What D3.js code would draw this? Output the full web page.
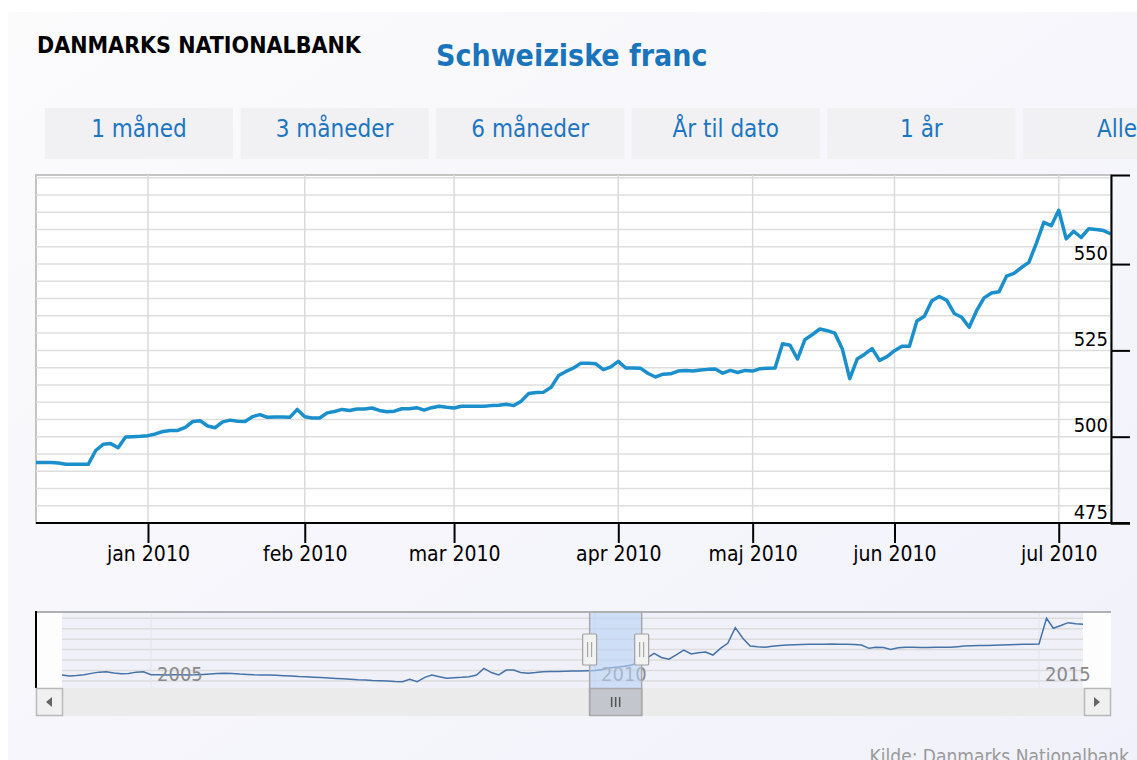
<!DOCTYPE html>
<html>
<head>
<meta charset="utf-8">
<script src="https://cdn.jsdelivr.net/npm/d3@7"></script>
<style>
body { margin: 0; background: #fff; }
text { font-family: "DejaVu Sans Condensed", "DejaVu Sans", sans-serif; font-stretch: condensed; }
</style>
</head>
<body>
<div id="chart"></div>
<script>
// daily values, dkk per 100 chf, one array per month
var dec2009 = [492.5, 492.5, 492.5, 492.4, 492.0, 492.0, 492.0, 492.0, 496.0, 497.8, 498.0, 496.8, 499.9, 500.0, 500.1];
var jan2010 = [500.3, 500.8, 501.5, 501.8, 501.8, 502.7, 504.4, 504.6, 503.1, 502.6, 504.3, 504.8, 504.5, 504.4, 505.8, 506.4, 505.6, 505.7, 505.7, 505.6, 507.9];
var feb2010 = [505.8, 505.4, 505.4, 506.9, 507.3, 507.9, 507.6, 508.0, 508.0, 508.3, 507.6, 507.2, 507.4, 508.1, 508.1, 508.4, 507.7, 508.4, 508.8, 508.5];
var mar2010 = [508.3, 508.8, 508.8, 508.8, 508.8, 509.0, 509.1, 509.4, 509.0, 510.3, 512.5, 512.8, 512.9, 514.3, 517.7, 518.9, 519.9, 521.3, 521.3, 521.1, 519.4, 520.2];
var apr2010 = [521.8, 519.9, 519.9, 519.8, 518.3, 517.3, 518.1, 518.2, 519.0, 519.2, 519.0, 519.3, 519.5, 519.6, 518.4, 519.2, 518.6, 519.2];
var maj2010 = [519.0, 519.7, 519.8, 519.9, 526.9, 526.5, 522.5, 528.1, 529.6, 531.2, 530.7, 530.0, 525.5, 516.8, 522.5, 523.9, 525.5, 522.1, 523.2];
var jun2010 = [524.9, 526.2, 526.2, 533.5, 534.9, 539.4, 540.6, 539.5, 535.7, 534.6, 531.7, 536.5, 540.2, 541.6, 542.0, 546.5, 547.3, 549.0, 550.5, 556.0, 562.1, 561.1];
var jul2010 = [565.6, 557.3, 559.5, 557.7, 560.2, 560.0, 559.7, 558.7];

var monthLabels = ["jan 2010", "feb 2010", "mar 2010", "apr 2010", "maj 2010", "jun 2010", "jul 2010"];
var yTicks = [475, 500, 525, 550];
var buttonLabels = ["1 måned", "3 måneder", "6 måneder", "År til dato", "1 år", "Alle"];

// navigator series, monthly values from 2004
var nav2004 = [478, 474, 476, 480, 486, 492, 494, 488, 484, 486, 492, 494];
var nav2005 = [480, 479, 478, 479, 479, 478, 479, 481, 483, 485, 487, 486];
var nav2006 = [483, 481, 479, 478, 478, 477, 475, 473, 471, 470, 468, 466];
var nav2007 = [464, 462, 460, 458, 455, 454, 452, 451, 449, 447, 446, 458];
var nav2008 = [446, 467, 478, 470, 463, 465, 467, 470, 478, 510, 490, 479];
var nav2009 = [502, 502, 490, 487, 490, 494, 495, 495, 496, 497, 498, 499];
var nav2010 = [500, 505, 512, 516, 520, 526, 540, 558, 582, 562, 554, 575];
var nav2011 = [598, 579, 585, 588, 574, 606, 630, 705, 654, 617, 613, 611];
var nav2012 = [616, 620, 622, 623, 624, 625, 626, 626, 627, 626, 625, 624];
var nav2013 = [622, 606, 611, 610, 601, 609, 611, 611, 610, 610, 611, 611];
var nav2014 = [611, 614, 617, 618, 619, 620, 621, 622, 623, 624, 625, 626];
var nav2015 = [627, 750, 702, 715, 729, 724, 721];
var navYears = [2005, 2010, 2015];
var navGrid = [450, 500, 550, 600, 650, 700, 750];

const width = 1137;
const height = 760;
const plot = {left: 36, right: 1111, top: 175, bottom: 523};
const nav = {left: 62, right: 1083, top: 612, bottom: 688};
const font = "'DejaVu Sans Condensed', 'DejaVu Sans', sans-serif";

var months = [dec2009, jan2010, feb2010, mar2010, apr2010, maj2010, jun2010, jul2010];
var values = [];
var monthStarts = [];
months.forEach(function(m, i) {
    if (i > 0) monthStarts.push(values.length);
    values = values.concat(m);
});

var navSeries = [nav2004, nav2005, nav2006, nav2007, nav2008, nav2009, nav2010, nav2011, nav2012, nav2013, nav2014, nav2015];
var navPoints = [];
navSeries.forEach(function(arr, yi) {
    arr.forEach(function(v, m) {
        navPoints.push({date: new Date(2004 + yi, m, 1), value: v});
    });
});

var svg = d3.select("#chart").append("svg")
    .attr("width", width)
    .attr("height", height);

// page background
var defs = svg.append("defs");
var grad = defs.append("linearGradient").attr("id", "bg")
    .attr("x1", 0).attr("y1", 0).attr("x2", 1).attr("y2", 1);
grad.append("stop").attr("offset", 0).attr("stop-color", "#fbfbfc");
grad.append("stop").attr("offset", 1).attr("stop-color", "#f1f1fb");

svg.append("rect").attr("width", width).attr("height", height).attr("fill", "#fff");
svg.append("rect").attr("x", 8).attr("y", 12)
    .attr("width", width - 8).attr("height", height - 12)
    .attr("fill", "url(#bg)");

// header
svg.append("text")
    .attr("x", 37).attr("y", 53)
    .style("font-size", "23px").style("font-weight", "bold")
    .attr("fill", "#000")
    .text("DANMARKS NATIONALBANK");

svg.append("text")
    .attr("x", 436).attr("y", 66)
    .style("font-size", "30px").style("font-weight", "bold")
    .attr("fill", "#1a74bb")
    .text("Schweiziske franc");

// range buttons
var btn = svg.selectAll(".btn")
    .data(buttonLabels)
    .enter()
    .append("g")
    .attr("class", "btn")
    .attr("transform", function(d, i) { return "translate(" + (45 + i * 195.6) + ",108)"; });

btn.append("rect")
    .attr("width", 188).attr("height", 51)
    .attr("fill", "#f1f1f4");

btn.append("text")
    .attr("x", 94).attr("y", 29)
    .attr("text-anchor", "middle")
    .style("font-size", "24px")
    .attr("fill", "#1c75c0")
    .text(function(d) { return d; });

// main chart scales
var x = d3.scaleLinear().domain([0, values.length - 1]).range([plot.left, plot.right]);
var y = d3.scaleLinear().domain([475, 575.8]).range([plot.bottom, plot.top]);

svg.append("rect")
    .attr("x", plot.left).attr("y", plot.top)
    .attr("width", plot.right - plot.left).attr("height", plot.bottom - plot.top)
    .attr("fill", "#fff")
    .attr("stroke", "#c4c4c4")
    .attr("stroke-width", 2);

// grid
svg.append("g").selectAll("line")
    .data(d3.range(475, 576, 5))
    .enter()
    .append("line")
    .attr("x1", plot.left).attr("x2", plot.right)
    .attr("y1", function(d) { return y(d); })
    .attr("y2", function(d) { return y(d); })
    .attr("stroke", "#dedede")
    .attr("stroke-width", 1.5);

svg.append("g").selectAll("line")
    .data(monthStarts)
    .enter()
    .append("line")
    .attr("x1", function(d) { return x(d); })
    .attr("x2", function(d) { return x(d); })
    .attr("y1", plot.top).attr("y2", plot.bottom)
    .attr("stroke", "#dadada")
    .attr("stroke-width", 1.5);

// the series
var line = d3.line()
    .x(function(d, i) { return x(i); })
    .y(function(d) { return y(d); });

svg.append("path")
    .datum(values)
    .attr("d", line)
    .attr("fill", "none")
    .attr("stroke", "#1a8fcb")
    .attr("stroke-width", 3.5)
    .attr("stroke-linejoin", "round");

// x axis
var xAxis = d3.axisBottom(x)
    .tickValues(monthStarts)
    .tickFormat(function(d, i) { return monthLabels[i]; })
    .tickSize(20)
    .tickSizeOuter(0);

var gx = svg.append("g")
    .attr("transform", "translate(0," + plot.bottom + ")")
    .call(xAxis);
gx.select(".domain").remove();
gx.selectAll(".tick line").attr("stroke", "#000").attr("stroke-width", 2);
gx.selectAll(".tick text").style("font-size", "21px").attr("fill", "#000");

svg.append("line")
    .attr("x1", plot.left).attr("x2", plot.right + 19)
    .attr("y1", plot.bottom).attr("y2", plot.bottom)
    .attr("stroke", "#000").attr("stroke-width", 2);

// y axis on the right, labels sit inside the plot
var yAxis = d3.axisRight(y)
    .tickValues(yTicks)
    .tickSize(19)
    .tickSizeOuter(19);

var gy = svg.append("g")
    .attr("transform", "translate(" + plot.right + ",0)")
    .call(yAxis);
gy.select(".domain").attr("stroke", "#000").attr("stroke-width", 2);
gy.selectAll(".tick line").attr("stroke", "#000").attr("stroke-width", 2);
gy.selectAll(".tick text")
    .attr("x", -3).attr("dy", -5)
    .attr("text-anchor", "end")
    .style("font-size", "20px")
    .attr("fill", "#000");

// navigator
var nx = d3.scaleTime()
    .domain([new Date(2004, 0, 1), new Date(2015, 6, 1)])
    .range([nav.left, nav.right]);
var ny = d3.scaleLinear().domain([416, 780]).range([nav.bottom, nav.top]);

svg.append("rect")
    .attr("x", plot.left).attr("y", nav.top)
    .attr("width", plot.right - plot.left).attr("height", nav.bottom - nav.top)
    .attr("fill", "#fdfdfe");
svg.append("rect")
    .attr("x", nav.left).attr("y", nav.top)
    .attr("width", nav.right - nav.left).attr("height", nav.bottom - nav.top)
    .attr("fill", "#f0f0f9");

svg.append("g").selectAll("line")
    .data(navGrid)
    .enter()
    .append("line")
    .attr("x1", nav.left).attr("x2", nav.right)
    .attr("y1", function(d) { return ny(d); })
    .attr("y2", function(d) { return ny(d); })
    .attr("stroke", "#dcdcdc")
    .attr("stroke-width", 1.5);

var yearDates = navYears.map(function(yr) { return new Date(yr, 0, 1); });

svg.append("g").selectAll("line")
    .data(yearDates)
    .enter()
    .append("line")
    .attr("x1", function(d) { return nx(d); })
    .attr("x2", function(d) { return nx(d); })
    .attr("y1", nav.top).attr("y2", nav.bottom)
    .attr("stroke", "#e2e2ea")
    .attr("stroke-width", 1);

var navLine = d3.line()
    .x(function(d) { return nx(d.date); })
    .y(function(d) { return ny(d.value); });

svg.append("path")
    .datum(navPoints)
    .attr("d", navLine)
    .attr("fill", "none")
    .attr("stroke", "#4572a7")
    .attr("stroke-width", 1.5);

svg.append("g").selectAll("text")
    .data(yearDates)
    .enter()
    .append("text")
    .attr("x", function(d) { return nx(d) + 6; })
    .attr("y", 681)
    .style("font-size", "20px")
    .attr("fill", "#8a8a8a")
    .text(function(d) { return d.getFullYear(); });

// selected range
var selStart = nx(new Date(2009, 11, 10));
var selEnd = nx(new Date(2010, 6, 12));

svg.append("rect")
    .attr("x", selStart).attr("y", nav.top)
    .attr("width", selEnd - selStart).attr("height", nav.bottom - nav.top)
    .attr("fill", "#b9d2f5")
    .attr("opacity", 0.6);

svg.append("line")
    .attr("x1", plot.left).attr("x2", plot.right)
    .attr("y1", nav.top).attr("y2", nav.top)
    .attr("stroke", "#b0b0b4").attr("stroke-width", 2);

svg.append("line")
    .attr("x1", plot.left).attr("x2", plot.left)
    .attr("y1", nav.top - 1).attr("y2", nav.bottom)
    .attr("stroke", "#000").attr("stroke-width", 2);

// scrollbar
var sb = {top: 688, h: 28};
svg.append("rect")
    .attr("x", plot.left).attr("y", sb.top)
    .attr("width", plot.right - plot.left).attr("height", sb.h)
    .attr("fill", "#ebebeb");

[plot.left, nav.right + 1].forEach(function(bx, i) {
    svg.append("rect")
        .attr("x", bx + 0.5).attr("y", sb.top + 0.5)
        .attr("width", 26).attr("height", sb.h - 1)
        .attr("fill", "#f0f0f0")
        .attr("stroke", "#b8b8b8").attr("stroke-width", 1.5);
    var cx = bx + 13, cy = sb.top + sb.h / 2;
    var pts = i == 0
        ? [[cx + 3, cy - 5], [cx - 3, cy], [cx + 3, cy + 5]]
        : [[cx - 3, cy - 5], [cx + 3, cy], [cx - 3, cy + 5]];
    svg.append("path")
        .attr("d", "M" + pts.join("L") + "Z")
        .attr("fill", "#666");
});

svg.append("rect")
    .attr("x", selStart).attr("y", sb.top + 0.5)
    .attr("width", selEnd - selStart).attr("height", sb.h - 1)
    .attr("fill", "#c3c6cc")
    .attr("stroke", "#a8a8ac").attr("stroke-width", 1.5);

[-4, 0, 4].forEach(function(o) {
    var cx = (selStart + selEnd) / 2 + o;
    svg.append("line")
        .attr("x1", cx).attr("x2", cx)
        .attr("y1", sb.top + 9).attr("y2", sb.top + 19)
        .attr("stroke", "#555").attr("stroke-width", 1.5);
});

// outline around the selection
[selStart, selEnd].forEach(function(hx) {
    svg.append("line")
        .attr("x1", hx).attr("x2", hx)
        .attr("y1", nav.top).attr("y2", sb.top + sb.h)
        .attr("stroke", "#a8a8ac").attr("stroke-width", 1.5);
});

// handles
[selStart, selEnd].forEach(function(hx) {
    svg.append("rect")
        .attr("x", hx - 7).attr("y", 634)
        .attr("width", 14).attr("height", 31)
        .attr("rx", 1)
        .attr("fill", "#f2f2f2")
        .attr("stroke", "#a0a0a0").attr("stroke-width", 1.2);
    [-2, 2].forEach(function(o) {
        svg.append("line")
            .attr("x1", hx + o).attr("x2", hx + o)
            .attr("y1", 642).attr("y2", 657)
            .attr("stroke", "#999").attr("stroke-width", 1);
    });
});

// source
svg.append("text")
    .attr("x", 1129).attr("y", 763)
    .attr("text-anchor", "end")
    .style("font-size", "19px")
    .attr("fill", "#999")
    .text("Kilde: Danmarks Nationalbank");
</script>
</body>
</html>
